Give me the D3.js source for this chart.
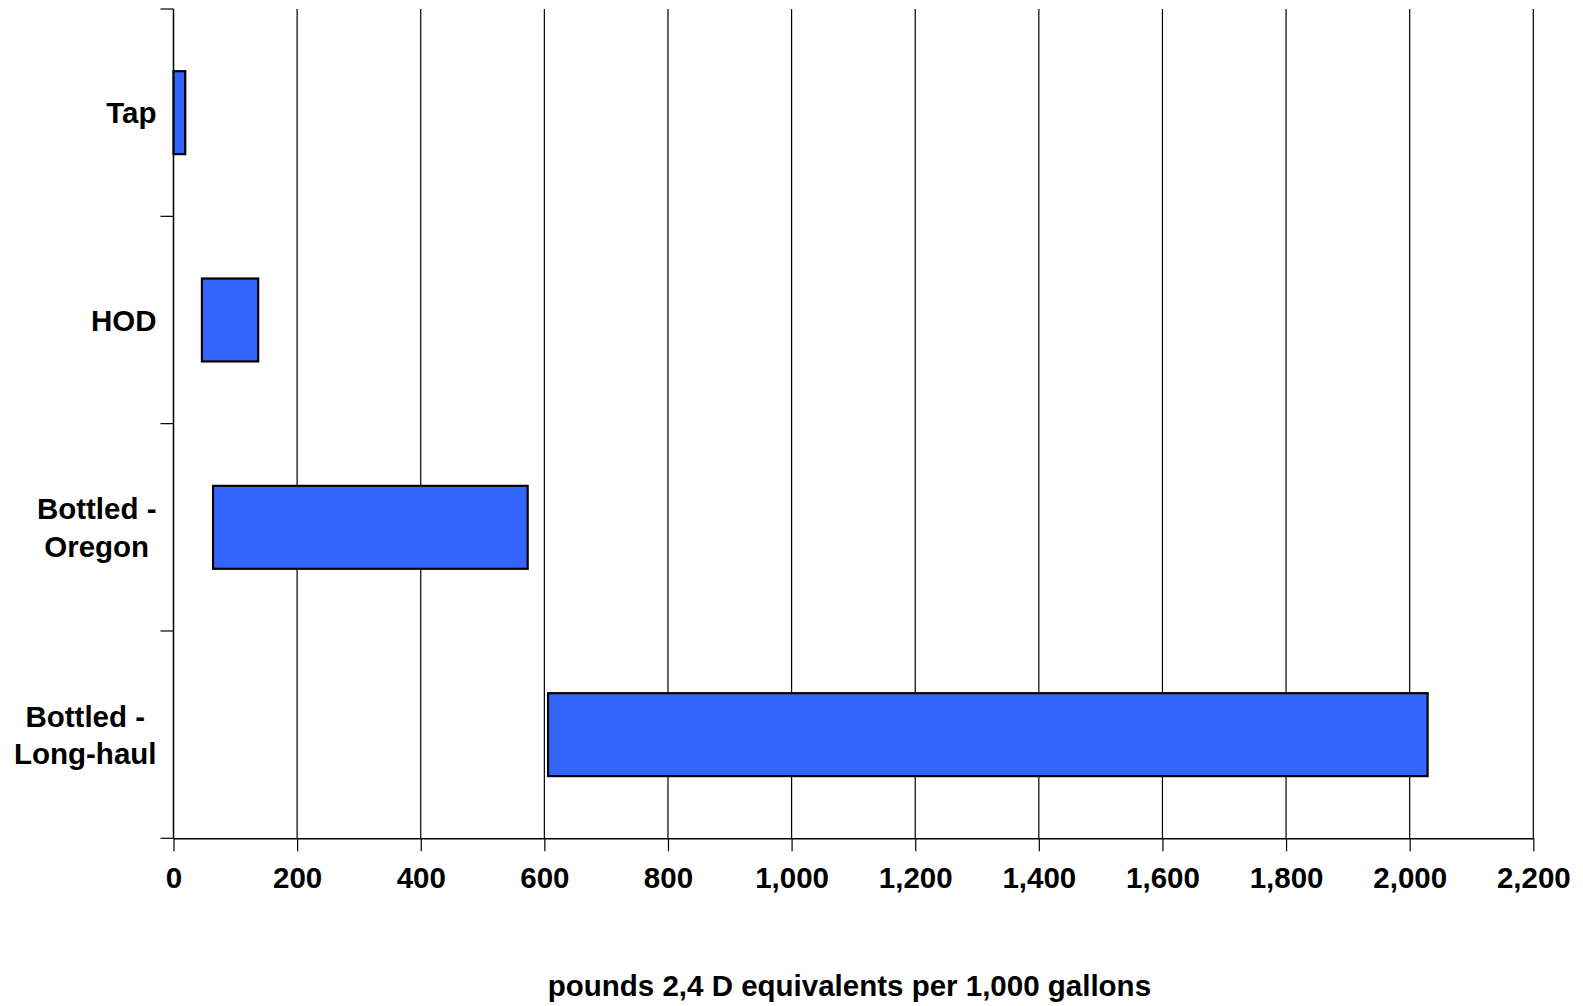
<!DOCTYPE html>
<html>
<head>
<meta charset="utf-8">
<script src="https://cdn.jsdelivr.net/npm/d3@7"></script>
<style>
  html, body { margin: 0; padding: 0; background: #fff; }
  svg { display: block; font-family: "Liberation Sans", Arial, sans-serif; font-weight: bold; }
</style>
</head>
<body>
<svg id="chart" width="1583" height="1006"></svg>
<script>
// Floating bar ranges: pounds 2,4-D equivalents per 1,000 gallons
const categories = ["Tap", "HOD", "Bottled - Oregon", "Bottled - Long-haul"];
const categoryLines = [["Tap"], ["HOD"], ["Bottled -", "Oregon"], ["Bottled -", "Long-haul"]];
const lowValues  = [0, 46, 64, 606];
const highValues = [19, 137, 573, 2029];
const xTicks = [0, 200, 400, 600, 800, 1000, 1200, 1400, 1600, 1800, 2000, 2200];
const axisTitle = "pounds 2,4 D equivalents per 1,000 gallons";

const svg = d3.select("#chart");
const plotLeft = 173.5, plotRight = 1533.3, plotTop = 9, plotBottom = 838.3;
const fontSize = 29.5;

const x = d3.scaleLinear().domain([0, 2200]).range([plotLeft, plotRight]);
const y = d3.scaleBand().domain(categories).range([plotTop, plotBottom]).paddingInner(0.6).paddingOuter(0.3);
const yBand = d3.scaleBand().domain(categories).range([plotTop, plotBottom]);

// vertical gridlines
svg.append("g").selectAll("line").data(xTicks.slice(1)).join("line")
  .attr("x1", d => x(d)).attr("x2", d => x(d))
  .attr("y1", plotTop).attr("y2", plotBottom)
  .attr("stroke", "#000").attr("stroke-width", 1.2);

// x axis
const xAxis = d3.axisBottom(x).tickValues(xTicks).tickSize(13).tickSizeOuter(0)
  .tickFormat(d3.format(","));
const gx = svg.append("g").attr("transform", `translate(0,${plotBottom})`).call(xAxis);
gx.select(".domain").attr("stroke", "#000").attr("stroke-width", 1.5);
gx.selectAll(".tick line").attr("stroke", "#000").attr("stroke-width", 1.2);
gx.selectAll(".tick text")
  .attr("font-size", fontSize).attr("font-weight", "bold").attr("fill", "#000")
  .attr("font-family", "Liberation Sans, Arial, sans-serif")
  .attr("y", 29).attr("dy", "0.71em");

// y axis line and band boundary ticks
svg.append("line").attr("x1", plotLeft).attr("x2", plotLeft).attr("y1", plotTop).attr("y2", plotBottom)
  .attr("stroke", "#000").attr("stroke-width", 1.5);
const bounds = categories.map(c => yBand(c)).concat([plotBottom]);
svg.append("g").selectAll("line").data(bounds).join("line")
  .attr("x1", plotLeft - 13).attr("x2", plotLeft)
  .attr("y1", d => d).attr("y2", d => d)
  .attr("stroke", "#000").attr("stroke-width", 1.2);

// bars
svg.append("g").selectAll("rect").data(categories).join("rect")
  .attr("x", (d, i) => x(lowValues[i]))
  .attr("width", (d, i) => x(highValues[i]) - x(lowValues[i]))
  .attr("y", d => y(d))
  .attr("height", y.bandwidth())
  .attr("fill", "#3366FF")
  .attr("stroke", "#000").attr("stroke-width", 2.2);

// category labels: lines centred within a right-aligned block
const labelRight = 156.5, lineGap = 37.4;
const lg = svg.append("g").attr("font-size", fontSize).attr("fill", "#000");
categories.forEach((c, i) => {
  const lines = categoryLines[i];
  const cy = yBand(c) + yBand.bandwidth() / 2;
  const t = lg.append("text").attr("text-anchor", "middle");
  lines.forEach((ln, j) => {
    t.append("tspan").attr("x", 0)
      .attr("y", cy + (j - (lines.length - 1) / 2) * lineGap)
      .attr("dy", "0.36em").text(ln);
  });
  const w = t.node().getBBox().width;
  t.selectAll("tspan").attr("x", labelRight - w / 2);
});

// axis title
svg.append("text").attr("x", (plotLeft + plotRight) / 2 - 4).attr("y", 985)
  .attr("dy", "0.36em").attr("text-anchor", "middle")
  .attr("font-size", fontSize).attr("fill", "#000").text(axisTitle);
</script>
</body>
</html>
